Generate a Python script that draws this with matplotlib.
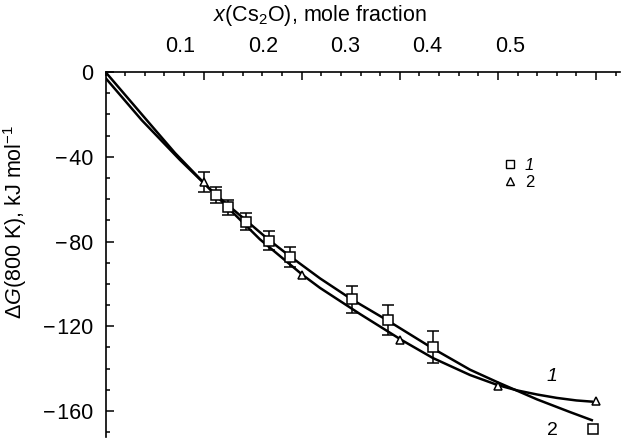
import numpy as np
import matplotlib
matplotlib.use("Agg")
import matplotlib.pyplot as plt
import matplotlib.transforms as mtransforms
from matplotlib.lines import Line2D
from matplotlib.ticker import MultipleLocator, FixedLocator

plt.rcParams['font.family'] = ['Liberation Sans', 'DejaVu Sans']
plt.rcParams['mathtext.fontset'] = 'custom'
plt.rcParams['mathtext.rm'] = 'Liberation Sans'
plt.rcParams['mathtext.it'] = 'Liberation Sans:italic'

# ----------------------------------------------------------------------------------------------------------------------
# Data (x in mole fraction Cs2O, dG in kJ/mol)
# ----------------------------------------------------------------------------------------------------------------------
sq_x = [0.1126, 0.125, 0.143, 0.167, 0.188, 0.251, 0.2877, 0.334, 0.497]
sq_y = [-58.0, -63.9, -70.6, -79.6, -87.2, -107.3, -117.0, -129.6, -168.5]
sq_err = [3.6, 3.4, 4.0, 4.5, 4.8, 6.4, 6.9, 7.5, 0.0]

tri_x = [0.1, 0.2, 0.3, 0.4, 0.5]
tri_y = [-52.0, -95.8, -126.5, -148.2, -155.1]
tri_err = [4.6, 0.0, 0.0, 0.0, 0.0]

# curve ending at the square (labelled 2)
curve2_x = [0.0, 0.0369, 0.0759, 0.1126, 0.1439, 0.1667, 0.1876, 0.2187, 0.251, 0.2866,
            0.3338, 0.3716, 0.4001, 0.4399, 0.4736, 0.4969]
curve2_y = [-2.8, -22.7, -41.5, -58.0, -70.3, -79.3, -86.8, -97.4, -107.3, -117.0,
            -130.5, -140.5, -146.5, -154.5, -160.5, -164.5]

# curve ending at the triangle (labelled 1)
curve1_x = [0.0, 0.042, 0.0708, 0.1004, 0.1269, 0.1575, 0.201, 0.2187, 0.2594, 0.3019,
            0.3338, 0.3716, 0.4001, 0.42, 0.44, 0.46, 0.48, 0.4969]
curve1_y = [0.0, -22.7, -38.2, -52.4, -65.0, -79.0, -95.8, -101.9, -114.2, -126.5,
            -135.0, -143.0, -147.8, -150.3, -152.2, -153.8, -155.0, -155.6]

x_ticks = [0.1, 0.2, 0.3, 0.4, 0.5]
x_tick_labels = ['0.1', '0.2', '0.3', '0.4', '0.5']
y_ticks = [0, -40, -80, -120, -160]
y_tick_labels = ['0', '\u2212\u200a40', '\u2212\u200a80', '\u2212\u200a120', '\u2212\u200a160']


def set_top_ticks(ax):
    ax.xaxis.set_ticks_position('top')
    ax.xaxis.set_major_locator(FixedLocator(x_ticks))
    ax.xaxis.set_minor_locator(MultipleLocator(0.02))
    ax.tick_params(axis='x', which='both', direction='in', top=True, bottom=False,
                   labeltop=False, labelbottom=False, width=1.1)
    ax.tick_params(axis='x', which='major', length=5.8)
    ax.tick_params(axis='x', which='minor', length=2.9)


# ----------------------------------------------------------------------------------------------------------------------
# Figure and axes frame
# ----------------------------------------------------------------------------------------------------------------------
W, H = 621, 448
fig = plt.figure(figsize=(W / 100, H / 100), dpi=100)
x0_px, x1_px, ytop_px, ybot_px = 105.5, 620, 72, 437
ax = fig.add_axes([x0_px / W, (H - ybot_px) / H, (x1_px - x0_px) / W, (ybot_px - ytop_px) / H])
px_per_x = 981.0
px_per_y = 2.119
ax.set_xlim(0, (x1_px - x0_px) / px_per_x)
ax.set_ylim(-(ybot_px - ytop_px) / px_per_y, 0)
ax.set_axisbelow(False)

for s in ['right', 'bottom']:
    ax.spines[s].set_visible(False)
for s in ['left', 'top']:
    ax.spines[s].set_linewidth(1.2)
set_top_ticks(ax)
ax.set_yticks(y_ticks)
ax.set_yticklabels(y_tick_labels)
ax.yaxis.set_minor_locator(MultipleLocator(10))
ax.tick_params(axis='y', which='both', direction='in', left=True, right=False, width=1.1,
               labelsize=15.5, pad=9)
ax.tick_params(axis='y', which='major', length=5.8)
ax.tick_params(axis='y', which='minor', length=2.9)

# ----------------------------------------------------------------------------------------------------------------------
# Curves and points
# ----------------------------------------------------------------------------------------------------------------------
lw_curve = 1.8
ax.plot(curve1_x, curve1_y, color='black', lw=lw_curve, zorder=2, solid_capstyle='butt')
ax.plot(curve2_x, curve2_y, color='black', lw=lw_curve, zorder=2, solid_capstyle='butt')

sq_x = np.array(sq_x); sq_y = np.array(sq_y); sq_err = np.array(sq_err)
tri_x = np.array(tri_x); tri_y = np.array(tri_y); tri_err = np.array(tri_err)
m = sq_err > 0
ax.errorbar(sq_x[m], sq_y[m], yerr=sq_err[m], fmt='none', ecolor='black',
            elinewidth=1.1, capsize=4.3, capthick=1.1, zorder=3)
m = tri_err > 0
ax.errorbar(tri_x[m], tri_y[m], yerr=tri_err[m], fmt='none', ecolor='black',
            elinewidth=1.1, capsize=4.3, capthick=1.1, zorder=3)
ax.plot(sq_x, sq_y, 's', ms=6.7, mfc='white', mec='black', mew=1.1, zorder=4)
ax.plot(tri_x, tri_y, '^', ms=6.3, mfc='white', mec='black', mew=1.1, zorder=4)

# curve labels
ax.text(0.4548, -143.8, '1', fontsize=14, style='italic', ha='center', va='center')
ax.text(0.4558, -169.3, '2', fontsize=14, ha='center', va='center')

# legend
handles = [Line2D([], [], ls='none', marker='s', ms=5.2, mfc='white', mec='black', mew=1.0),
           Line2D([], [], ls='none', marker='^', ms=5.2, mfc='white', mec='black', mew=1.0)]
leg = ax.legend(handles, ['1', '2'], loc='center left', frameon=False, fontsize=12,
                bbox_to_anchor=((503 - x0_px) / (x1_px - x0_px), (ybot_px - 174) / (ybot_px - ytop_px)),
                handlelength=0.8, handletextpad=0.5, labelspacing=0.1, borderpad=0, borderaxespad=0)
leg.get_texts()[0].set_style('italic')

# top tick labels, placed where the reference prints them
label_px = [180, 263, 345, 427, 510]
trans = mtransforms.blended_transform_factory(ax.transData, fig.transFigure)
for p, lab in zip(label_px, x_tick_labels):
    fig.text(((p - x0_px) / px_per_x) * 0 + p / W, 1 - 46 / H, lab, fontsize=15.5,
             ha='center', va='center')

fig.text(320 / W, 1 - 15 / H, r'$x$(Cs$_2$O), mole fraction', fontsize=15.5, ha='center', va='center')
fig.text(15 / W, 1 - 222 / H, '\u0394$G$(800 K), kJ mol$^{\u22121}$', fontsize=15.5,
         rotation=90, ha='center', va='center')

# apply the top ticks again last, in case anything above reset them
set_top_ticks(ax)

fig.savefig('out.png', dpi=100)
